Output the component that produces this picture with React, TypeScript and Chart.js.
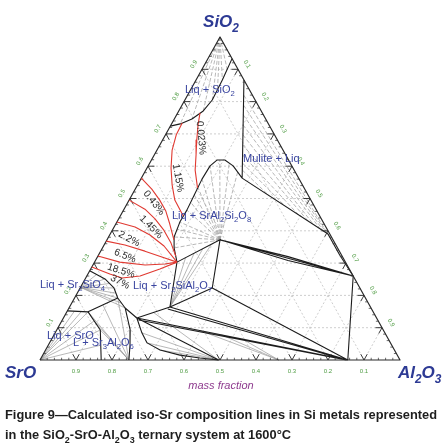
import React, { useEffect, useRef } from "react";
import { Chart, registerables } from "chart.js";

Chart.register(...registerables);

// A composition is [SiO2, Al2O3] in mass fraction (SrO = 1 - SiO2 - Al2O3)
type Comp = [number, number];

// ---------- axis values ----------
const GRID_STEPS = [0.1, 0.2, 0.3, 0.4, 0.5, 0.6, 0.7, 0.8, 0.9];
const SRO_TICK_LABELS = ["0.9", "0.8", "0.7", "0.6", "0.5", "0.4", "0.3", "0.2", "0.1"];
const SIO2_TICK_LABELS = ["0.1", "0.2", "0.3", "0.4", "0.5", "0.6", "0.7", "0.8", "0.9"];
const AL2O3_TICK_LABELS = ["0.9", "0.8", "0.7", "0.6", "0.5", "0.4", "0.3", "0.2", "0.1"];

// ---------- corners and compounds ----------
const SIO2: Comp = [1, 0];
const SRO: Comp = [0, 0];
const AL2O3: Comp = [0, 1];
const MULLITE: Comp = [0.26, 0.74];
const SRAL12O19: Comp = [0, 0.855];
const SRAL4O7: Comp = [0, 0.663];
const SRAL2O4: Comp = [0, 0.496];
const SR3AL2O6: Comp = [0, 0.247];
const SR2SIO4: Comp = [0.225, 0];
const SRAL2SI2O8: Comp = [0.372, 0.314];
const SR2SIAL2O7: Comp = [0.164, 0.279];

// ---------- invariant / junction points ----------
const LIQ_A: Comp = [0.303, 0.229];
const LIQ_B: Comp = [0.563, 0.28];
const NODE_C: Comp = [0.223, 0.367];
const NODE_D: Comp = [0.13, 0.204];
const NODE_E: Comp = [0.149, 0.059];

// ---------- phase boundaries (black) ----------
const SIO2_LIQUIDUS: Comp[] = [[0.933, 0.067], [0.867, 0.073], [0.805, 0.076], [0.771, 0.068], [0.746, 0.049], [0.731, 0.024], [0.724, 0]];
const MULLITE_LIQUIDUS: Comp[] = [[0.867, 0.133], LIQ_B];
const MULLITE_LIMIT: Comp[] = [LIQ_B, [0.39, 0.605], [0.325, 0.67], MULLITE];
const SRAL2SI2O8_LIQUIDUS: Comp[] = [LIQ_A, [0.347, 0.199], [0.381, 0.182], [0.427, 0.175], [0.464, 0.176], [0.511, 0.173], [0.56, 0.17], [0.601, 0.172], [0.619, 0.182], [0.619, 0.204], [0.601, 0.236], LIQ_B];
const SR2SIO4_LIQUIDUS: Comp[] = [[0.276, 0], [0.251, 0.055], [0.223, 0.094], [0.192, 0.12], [0.161, 0.156], NODE_D];
const SR3AL2O6_LIMIT: Comp[] = [[0.161, 0.156], [0.093, 0.204], [0.046, 0.227], SR3AL2O6];
const SRAL2O4_LIMIT: Comp[] = [NODE_D, [0.084, 0.241], [0.053, 0.271], [0.031, 0.318], [0.015, 0.381], [0.006, 0.441], SRAL2O4];
const SRO_LIMIT_1: Comp[] = [[0.152, 0], NODE_E, [0.192, 0.12]];
const SRO_LIMIT_2: Comp[] = [NODE_E, [0.093, 0.121], [0, 0.17]];
const TIE_TRIANGLES: Comp[][] = [
  [LIQ_A, SRAL2SI2O8],
  [LIQ_A, SR2SIAL2O7],
  [SRAL2SI2O8, NODE_C, SR2SIAL2O7],
  [NODE_C, SRAL12O19],
  [SR2SIAL2O7, SRAL12O19],
  [[0.158, 0.276], [0, 0.85]],
  [NODE_D, SR2SIAL2O7],
  [NODE_D, SRAL12O19],
  [[0.124, 0.212], [0, 0.851]],
  [NODE_D, SRAL2O4],
  [SRAL2SI2O8, MULLITE],
  [SRAL2SI2O8, [0.32, 0.529], MULLITE],
  [SRAL2SI2O8, [0.308, 0.535], MULLITE],
  [MULLITE, SRAL12O19],
];

// ---------- iso-Sr lines (red) ----------
const ISO_SR_0023: Comp[] = [[0.765, 0.062], [0.728, 0.075], [0.681, 0.095], [0.635, 0.116], [0.588, 0.137], [0.533, 0.171]];
const ISO_SR_115: Comp[] = [[0.734, 0.028], [0.697, 0.03], [0.65, 0.042], [0.594, 0.067], [0.542, 0.096], [0.495, 0.127], [0.446, 0.175]];
const ISO_SR_043: Comp[] = [[0.563, 0], [0.529, 0.046], [0.495, 0.085], [0.461, 0.119], [0.421, 0.15], [0.372, 0.186]];
const ISO_SR_145: Comp[] = [[0.495, 0], [0.467, 0.058], [0.437, 0.101], [0.402, 0.143], [0.362, 0.183], [0.322, 0.216]];
const ISO_SR_22: Comp[] = [[0.427, 0], [0.412, 0.058], [0.387, 0.112], [0.353, 0.168], LIQ_A];
const ISO_SR_65: Comp[] = [[0.368, 0], [0.356, 0.058], [0.337, 0.123], [0.319, 0.179], LIQ_A];
const ISO_SR_185: Comp[] = [[0.322, 0], [0.303, 0.07], [0.294, 0.145], [0.297, 0.198], LIQ_A];
const ISO_SR_37: Comp[] = [[0.288, 0], [0.266, 0.061], [0.254, 0.101], [0.26, 0.148], [0.282, 0.192], LIQ_A];
const ISO_SR_LINES = [ISO_SR_0023, ISO_SR_115, ISO_SR_043, ISO_SR_145, ISO_SR_22, ISO_SR_65, ISO_SR_185, ISO_SR_37];
const ISO_SR_LABELS = ["0.023%", "1.15%", "0.43%", "1.45%", "2.2%", "6.5%", "18.5%", "37%"];

// ---------- tie lines (grey) ----------
const SIO2_TIE_ENDS: Comp[] = [[0.933, 0.067], [0.9, 0.07], [0.867, 0.073], [0.836, 0.075], [0.805, 0.076], [0.771, 0.068], [0.746, 0.049], [0.731, 0.024]];
const MULLITE_TIES: [Comp, Comp][] = [
  [[0.82, 0.156], [0.378, 0.617]],
  [[0.789, 0.171], [0.393, 0.599]],
  [[0.759, 0.185], [0.399, 0.588]],
  [[0.728, 0.2], [0.406, 0.575]],
  [[0.697, 0.215], [0.418, 0.552]],
  [[0.666, 0.23], [0.43, 0.53]],
  [[0.635, 0.245], [0.449, 0.494]],
  [[0.61, 0.257], [0.477, 0.442]],
  [[0.588, 0.268], [0.508, 0.383]],
];
const SRAL2SI2O8_TIE_ENDS: Comp[] = [[0.347, 0.199], [0.381, 0.182], [0.405, 0.178], [0.427, 0.175], [0.464, 0.176], [0.488, 0.175], [0.511, 0.173], [0.535, 0.171], [0.56, 0.17], [0.601, 0.172], [0.619, 0.19], [0.612, 0.22], [0.582, 0.258]];
const SR2SIAL2O7_TIE_ENDS: Comp[] = [[0.317, 0.246], [0.331, 0.263], [0.344, 0.28], [0.358, 0.297]];
const SR2SIO4_TIE_ENDS: Comp[] = [[0.265, 0.025], [0.251, 0.055], [0.237, 0.075], [0.223, 0.094], [0.207, 0.107], [0.192, 0.12], [0.176, 0.138], [0.161, 0.156]];
const SRO_TIE_ENDS: Comp[] = [[0.151, 0.02], [0.15, 0.04], [0.149, 0.059], [0.121, 0.09], [0.093, 0.121], [0.046, 0.146]];
const SR3AL2O6_TIE_ENDS: Comp[] = [[0.192, 0.12], [0.17, 0.09], [0.149, 0.059], [0.121, 0.09], [0.093, 0.121]];
const SRAL2O4_TIE_ENDS: Comp[] = [[0.147, 0.242], [0.084, 0.241], [0.053, 0.271], [0.031, 0.318]];
const SRAL4O7_TIE_ENDS: Comp[] = [[0.091, 0.399], [0.078, 0.465], [0.065, 0.53]];

// ---------- layout (pixels) ----------
const ISO_LABEL_LAYOUT: [number, number, number][] = [
  [201, 138, 85], [178, 178, 80], [154, 203, 52], [151, 227, 45], [129, 239, 28], [125, 256, 22], [121, 271, 18], [120, 282, 28],
];
const PHASE_LABELS: [string, number, number][] = [
  ["Liq + SiO_2", 185, 93],
  ["Mulite + Liq", 243, 162],
  ["Liq + SrAl_2Si_2O_8", 172, 219],
  ["Liq + Sr_2SiO_4", 40, 288],
  ["Liq + Sr_2SiAl_2O_7", 133, 289],
  ["Liq + SrO", 47, 339],
  ["L + Sr_3Al_2O_6", 73, 346],
];

const FONT = "'Liberation Sans', Arial, sans-serif";
const BLUE = "#2d3a94";
const LABEL_BLUE = "#3a45a0";
const GREEN = "#4f9c43";
const RED = "#e03a32";

const toXY = (c: Comp) => ({ x: c[1] + c[0] / 2, y: c[0] });

function joinLines(lines: Comp[][]) {
  const out: any[] = [];
  lines.forEach((l, i) => {
    if (i > 0) {
      const prev = out[out.length - 1];
      out.push({ x: prev.x, y: null });
    }
    l.forEach((c) => out.push(toXY(c)));
  });
  return out;
}

const fan = (from: Comp, ends: Comp[]) => ends.map((e) => [from, e] as Comp[]);

function richText(ctx: CanvasRenderingContext2D, text: string, x: number, y: number, size: number, opt: any = {}) {
  const { align = "left", weight = "normal", style = "normal", color = "#000", hScale = 1 } = opt;
  const parts: { t: string; sub: boolean; w: number }[] = [];
  let buf = "";
  for (let i = 0; i < text.length; i++) {
    if (text[i] === "_") {
      if (buf) parts.push({ t: buf, sub: false, w: 0 });
      buf = "";
      parts.push({ t: text[i + 1], sub: true, w: 0 });
      i++;
    } else buf += text[i];
  }
  if (buf) parts.push({ t: buf, sub: false, w: 0 });
  const fN = `${style} ${weight} ${size}px ${FONT}`;
  const fS = `${style} ${weight} ${size * 0.7}px ${FONT}`;
  let w = 0;
  for (const p of parts) {
    ctx.font = p.sub ? fS : fN;
    p.w = ctx.measureText(p.t).width;
    w += p.w;
  }
  ctx.save();
  ctx.fillStyle = color;
  ctx.textBaseline = "alphabetic";
  ctx.textAlign = "left";
  const x0 = align === "center" ? x - (w * hScale) / 2 : align === "right" ? x - w * hScale : x;
  ctx.translate(x0, y);
  ctx.scale(hScale, 1);
  let cx = 0;
  for (const p of parts) {
    ctx.font = p.sub ? fS : fN;
    ctx.fillText(p.t, cx, p.sub ? size * 0.28 : 0);
    cx += p.w;
  }
  ctx.restore();
  return w;
}

const textPlugin = {
  id: "ternaryText",
  afterDatasetsDraw(chart: any) {
    const ctx: CanvasRenderingContext2D = chart.ctx;
    const xs = chart.scales.x;
    const ys = chart.scales.y;
    const px = (c: Comp) => [xs.getPixelForValue(c[1] + c[0] / 2), ys.getPixelForValue(c[0])];

    // edge tick labels
    ctx.save();
    ctx.fillStyle = GREEN;
    ctx.font = `6px ${FONT}`;
    ctx.textAlign = "center";
    ctx.textBaseline = "middle";
    GRID_STEPS.forEach((v, i) => {
      const [bx, by] = px([0, v]);
      ctx.fillText(SRO_TICK_LABELS[i], bx, by + 11);
      const [lx, ly] = px([v, 0]);
      ctx.save();
      ctx.translate(lx - 8, ly - 5);
      ctx.rotate((-60 * Math.PI) / 180);
      ctx.fillText(SIO2_TICK_LABELS[i], 0, 0);
      ctx.restore();
      const [rx, ry] = px([v, 1 - v]);
      ctx.save();
      ctx.translate(rx + 9, ry - 5);
      ctx.rotate((60 * Math.PI) / 180);
      ctx.fillText(AL2O3_TICK_LABELS[i], 0, 0);
      ctx.restore();
    });
    ctx.restore();

    // iso-Sr labels
    ctx.save();
    ctx.fillStyle = "#2b2b2b";
    ctx.font = `10px ${FONT}`;
    ctx.textAlign = "center";
    ctx.textBaseline = "middle";
    ISO_SR_LABELS.forEach((t, i) => {
      const [x, y, a] = ISO_LABEL_LAYOUT[i];
      ctx.save();
      ctx.translate(x, y);
      ctx.rotate((a * Math.PI) / 180);
      ctx.fillText(t, 0, 0);
      ctx.restore();
    });
    ctx.restore();

    // phase labels
    PHASE_LABELS.forEach(([t, x, y]) => richText(ctx, t, x, y, 11, { color: LABEL_BLUE }));

    // component names
    const [ax, ay] = px(SIO2);
    richText(ctx, "SiO_2", ax + 1, ay - 10, 17, { align: "center", weight: "bold", style: "italic", color: BLUE });
    const [sx, sy] = px(SRO);
    richText(ctx, "SrO", sx - 35, sy + 18, 17, { weight: "bold", style: "italic", color: BLUE });
    const [alx, aly] = px(AL2O3);
    richText(ctx, "Al_2O_3", alx - 2, aly + 18, 17, { weight: "bold", style: "italic", color: BLUE });
    richText(ctx, "mass fraction", (xs.left + xs.right) / 2 + 1, aly + 29, 11, { align: "center", style: "italic", color: "#8e3b8e" });

    // caption
    const l1 = "Figure 9\u2014Calculated iso-Sr composition lines in Si metals represented";
    ctx.font = `bold 13px ${FONT}`;
    const w1 = ctx.measureText(l1).width;
    const hs = Math.min(1, 432 / w1);
    richText(ctx, l1, 5, 419, 13, { weight: "bold", color: "#1e1e1e", hScale: hs });
    richText(ctx, "in the SiO_2-SrO-Al_2O_3 ternary system at 1600\u00b0C", 5, 439, 13, { weight: "bold", color: "#1e1e1e", hScale: hs });
  },
};

export default function App() {
  const ref = useRef<HTMLCanvasElement>(null);

  useEffect(() => {
    const canvas = ref.current;
    if (!canvas) return;

    // grid
    const gridLines: Comp[][] = [];
    GRID_STEPS.forEach((v) => {
      gridLines.push([[v, 0], [v, 1 - v]]); // const SiO2
      gridLines.push([[0, v], [1 - v, v]]); // const Al2O3
      gridLines.push([[0, 1 - v], [1 - v, 0]]); // const SrO
    });

    // ticks
    const T = 0.018;
    const majorTicks: Comp[][] = [];
    GRID_STEPS.forEach((v) => {
      majorTicks.push([[T, v], [0, v], [T, v - T]]);
      majorTicks.push([[v, T], [v, 0], [v - T, T]]);
      majorTicks.push([[v, 1 - v - T], [v, 1 - v], [v - T, 1 - v]]);
    });
    const minorTicks: Comp[][] = [];
    const m = 0.007;
    for (let i = 1; i < 50; i++) {
      if (i % 5 === 0) continue;
      const v = i * 0.02;
      minorTicks.push([[0, v], [m, v - m / 2]]);
      minorTicks.push([[v, 0], [v, m]]);
      minorTicks.push([[v, 1 - v], [v, 1 - v - m]]);
    }

    const dashedTies: Comp[][] = [
      ...fan(SIO2, SIO2_TIE_ENDS),
      ...MULLITE_TIES.map((p) => [p[0], p[1]]),
      ...fan(SRAL2SI2O8, SRAL2SI2O8_TIE_ENDS),
    ];
    const solidTies: Comp[][] = [
      ...fan(SR2SIAL2O7, SR2SIAL2O7_TIE_ENDS),
      ...fan(SR2SIO4, SR2SIO4_TIE_ENDS),
      ...fan(SRO, SRO_TIE_ENDS),
      ...fan(SR3AL2O6, SR3AL2O6_TIE_ENDS),
      ...fan(SRAL2O4, SRAL2O4_TIE_ENDS),
      ...fan(SRAL4O7, SRAL4O7_TIE_ENDS),
    ];
    const boundaries: Comp[][] = [
      SIO2_LIQUIDUS, MULLITE_LIQUIDUS, MULLITE_LIMIT, SRAL2SI2O8_LIQUIDUS, SR2SIO4_LIQUIDUS,
      SR3AL2O6_LIMIT, SRAL2O4_LIMIT, SRO_LIMIT_1, SRO_LIMIT_2, ...TIE_TRIANGLES,
    ];

    const base = { pointRadius: 0, pointHoverRadius: 0, fill: false, clip: false as any, tension: 0, spanGaps: false, borderJoinStyle: "round" as const };
    const datasets: any[] = [
      { ...base, data: joinLines(gridLines), borderColor: "#c2c2c2", borderWidth: 0.8, borderDash: [2, 2], order: 10 },
      { ...base, data: joinLines(dashedTies), borderColor: "#9a9a9a", borderWidth: 0.7, borderDash: [4, 2], order: 9 },
      { ...base, data: joinLines(solidTies), borderColor: "#9a9a9a", borderWidth: 0.7, order: 8 },
      { ...base, data: joinLines(boundaries), borderColor: "#1c1c1c", borderWidth: 1.1, order: 5 },
      { ...base, data: joinLines([[SRO, AL2O3, SIO2, SRO]]), borderColor: "#2a2a2a", borderWidth: 1.2, order: 4 },
      { ...base, data: joinLines(majorTicks), borderColor: "#2a2a2a", borderWidth: 0.9, order: 4 },
      { ...base, data: joinLines(minorTicks), borderColor: "#444", borderWidth: 0.8, order: 4 },
      ...ISO_SR_LINES.map((l) => ({ ...base, data: joinLines([l]), borderColor: RED, borderWidth: 1.1, order: 2 })),
    ];

    const chart = new Chart(canvas, {
      type: "line",
      data: { datasets },
      options: {
        animation: false,
        responsive: false,
        maintainAspectRatio: false,
        events: [],
        layout: { padding: { left: 40, right: 47, top: 37, bottom: 86 } },
        scales: {
          x: { type: "linear", min: 0, max: 1, display: false },
          y: { type: "linear", min: 0, max: 1, display: false },
        },
        plugins: { legend: { display: false }, tooltip: { enabled: false } },
      },
      plugins: [textPlugin],
    } as any);
    return () => chart.destroy();
  }, []);

  return (
    <div style={{ position: "absolute", left: 0, top: 0, width: 447, height: 446, background: "#fff" }}>
      <canvas ref={ref} width={447} height={446} style={{ display: "block", width: 447, height: 446 }} />
    </div>
  );
}
